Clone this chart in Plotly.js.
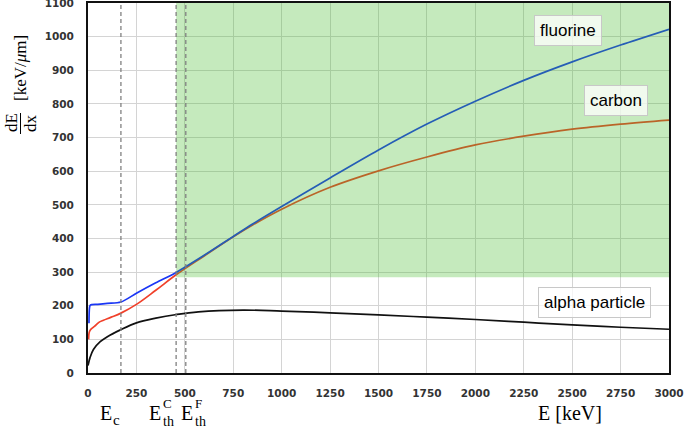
<!DOCTYPE html>
<html>
<head>
<meta charset="utf-8">
<script src="https://cdn.plot.ly/plotly-3.0.1.min.js"></script>
<style>html,body{margin:0;padding:0;background:#fff;}#chart{width:685px;height:430px;}</style>
</head>
<body>
<div id="chart"></div>
<script>
// ---- data ----
var fluorineE = [5, 8, 12, 50, 100, 170, 250, 350, 455, 600, 750, 850, 1000, 1250, 1500, 1750, 2000, 2250, 2500, 2750, 3000];
var fluorineV = [148, 195, 202, 204, 207, 211, 237, 268, 299, 350, 406, 443, 495, 580, 663, 740, 808, 870, 925, 975, 1022];

var carbonE = [3, 6, 12, 25, 40, 60, 80, 120, 170, 250, 350, 455, 600, 750, 850, 1000, 1250, 1500, 1750, 2000, 2250, 2500, 2750, 3000];
var carbonV = [100, 120, 128, 135, 142, 152, 157, 166, 178, 204, 246, 292, 348, 405, 440, 487, 552, 601, 642, 678, 704, 725, 740, 752];

var alphaE = [0, 10, 28, 63, 100, 170, 250, 350, 458, 570, 800, 1000, 1250, 1500, 1750, 2000, 2250, 2500, 2750, 3000];
var alphaV = [22, 45, 70, 93, 108, 129, 149, 163, 174, 182, 187, 184, 179, 173, 166, 159, 151, 143, 136, 130];

var thresholds = [170, 455, 505];          // E_c, E_th^C, E_th^F
var regionStartE = 455, regionStartV = 285; // shaded region corner
var xTicks = [0, 250, 500, 750, 1000, 1250, 1500, 1750, 2000, 2250, 2500, 2750, 3000];
var yTicks = [0, 100, 200, 300, 400, 500, 600, 700, 800, 900, 1000, 1100];
var seriesLabels = ['fluorine', 'carbon', 'alpha particle'];
var labelPos = [[2478, 1019], [2724, 811], [2615, 210]];

// ---- layout helpers ----
var W = 685, H = 430, M = {l: 88, r: 16, t: 3, b: 57};
var PW = W - M.l - M.r, PH = H - M.t - M.b;
function px(x) { return (x - M.l) / PW; }
function py(y) { return (H - M.b - y) / PH; }

var traces = [
  {x: alphaE, y: alphaV, mode: 'lines', line: {color: '#111111', width: 1.7, shape: 'spline', smoothing: 1}, name: seriesLabels[2]},
  {x: carbonE, y: carbonV, mode: 'lines', line: {color: '#f0402a', width: 1.7, shape: 'spline', smoothing: 1}, name: seriesLabels[1]},
  {x: fluorineE, y: fluorineV, mode: 'lines', line: {color: '#1a36f5', width: 1.7, shape: 'spline', smoothing: 0.8}, name: seriesLabels[0]}
];

var shapes = [{
  type: 'rect', xref: 'x', yref: 'y', x0: regionStartE, x1: 3000, y0: regionStartV, y1: 1100,
  fillcolor: 'rgba(62,185,35,0.3)', line: {width: 0}, layer: 'above'
}];
thresholds.forEach(function (t) {
  shapes.push({type: 'line', xref: 'x', yref: 'paper', x0: t, x1: t, y0: 0, y1: 1,
    line: {color: '#808080', width: 1.3, dash: '4px,3px'}, layer: 'above'});
});
// fraction bar of the y title
shapes.push({type: 'line', xref: 'paper', yref: 'paper', x0: px(20.5), x1: px(20.5), y0: py(113), y1: py(134),
  line: {color: '#000', width: 1}});

var serif = 'Liberation Serif, Times New Roman, serif';
var annotations = [];
seriesLabels.forEach(function (s, i) {
  annotations.push({x: labelPos[i][0], y: labelPos[i][1], xref: 'x', yref: 'y', text: s, showarrow: false,
    font: {family: 'Liberation Sans, Arial, sans-serif', size: 17, color: '#000'},
    bgcolor: 'rgba(255,255,255,0.75)', bordercolor: '#c8c8c8', borderwidth: 1, borderpad: 5});
});
function txt(x, y, t, size, extra) {
  var a = {xref: 'paper', yref: 'paper', x: px(x), y: py(y), text: t, showarrow: false,
    font: {family: serif, size: size, color: '#000'}, xanchor: 'center', yanchor: 'middle'};
  for (var k in extra) a[k] = extra[k];
  annotations.push(a);
}
// y title
txt(20, 68, '[keV/<i>μ</i>m]', 17, {textangle: -90});
txt(11, 123, 'dE', 17, {textangle: -90});
txt(30, 123, 'dx', 17, {textangle: -90});
// x annotations
txt(106, 413, 'E', 20);
txt(116.5, 420, 'c', 15);
txt(155, 413, 'E', 20);
txt(167, 403, 'C', 13);
txt(168, 421, 'th', 14);
txt(187, 413, 'E', 20);
txt(198.5, 403, 'F', 13);
txt(200, 421, 'th', 14);
txt(570, 413, 'E [keV]', 20);

var tickFont = {family: 'DejaVu Sans, Verdana, sans-serif', size: 10.5, color: '#333', weight: 'bold'};
var layout = {
  width: W, height: H, margin: M, showlegend: false,
  paper_bgcolor: '#fff', plot_bgcolor: '#fff',
  xaxis: {range: [0, 3000], tickvals: xTicks, ticktext: xTicks.map(String), showgrid: true,
    gridcolor: '#d4d4d4', gridwidth: 1, showline: true, linecolor: '#111', linewidth: 2, mirror: true,
    zeroline: false, ticks: '', tickfont: tickFont, ticklabelstandoff: 9, ticklabeloverflow: 'allow'},
  yaxis: {range: [0, 1100], tickvals: yTicks, ticktext: yTicks.map(String), showgrid: true,
    gridcolor: '#d4d4d4', gridwidth: 1, showline: true, linecolor: '#111', linewidth: 2, mirror: true,
    zeroline: false, ticks: '', tickfont: tickFont, ticklabelstandoff: 10, ticklabeloverflow: 'allow'},
  shapes: shapes, annotations: annotations
};
Plotly.newPlot('chart', traces, layout, {displayModeBar: false, staticPlot: true});
</script>
</body>
</html>
